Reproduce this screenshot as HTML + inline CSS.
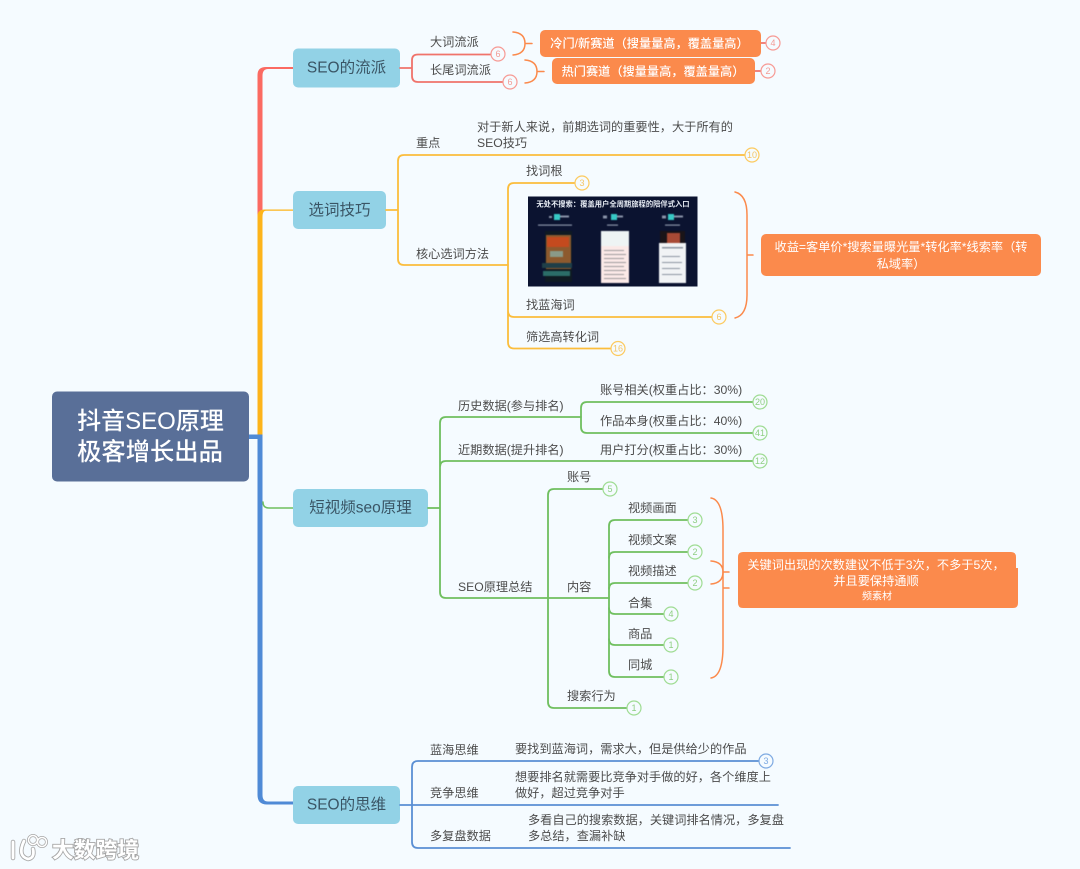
<!DOCTYPE html>
<html lang="zh"><head><meta charset="utf-8"><title>抖音SEO原理</title>
<style>
html,body{margin:0;padding:0;background:#f5fbff;width:1080px;height:869px;overflow:hidden}
svg{display:block;filter:blur(.35px)}
text{font-family:"Liberation Sans","Noto Sans CJK TC",sans-serif;dominant-baseline:central}
.l{font-size:12.200px;fill:#4c4c4c}
.t{font-size:15.500px;fill:#3a5565;text-anchor:middle}
.o{font-size:12.200px;fill:#fff;text-anchor:middle}
.b{font-size:9px;text-anchor:middle}
.n{fill:none;stroke-linecap:round;stroke-linejoin:round}
</style></head><body>
<svg width="1080" height="869" viewBox="0 0 1080 869" xmlns="http://www.w3.org/2000/svg">
<rect width="1080" height="869" fill="#f5fbff"/>

<!-- main branches -->
<path fill="#fb6a62" d="M257.500 436V75Q257.500 67 266 67H293V69H268Q262.500 69 262.500 76V436Z"/>
<path fill="#fdb41b" d="M257.500 436V216Q257.500 209.500 265 209.500H293V210.700H266Q262.500 210.700 262.500 217V436Z"/>
<path fill="#4f8ad6" d="M249 434.500H262.500V795Q262.500 801.500 268 801.500H293V804.500H267Q257.500 804.500 257.500 795V439H249Z"/>
<path class="n" d="M263 502Q263 508 269 508H293" stroke="#6fbf5f" stroke-width="1.500"/>

<!-- central -->
<rect x="52" y="391.500" width="197" height="90" rx="5" fill="#596f98"/>
<text x="150.500" y="421.500" font-size="24" font-weight="500" fill="#fff" text-anchor="middle">抖音SEO原理</text>
<text x="150" y="452.500" font-size="24.300" font-weight="500" fill="#fff" text-anchor="middle">极客增长出品</text>

<!-- topics -->
<g fill="#92d2e6">
<rect x="293" y="48.500" width="107" height="39" rx="5"/>
<rect x="293" y="191" width="93" height="38" rx="5"/>
<rect x="293" y="489" width="135" height="38" rx="5"/>
<rect x="293" y="786" width="107" height="38" rx="5"/>
</g>
<text class="t" x="346.500" y="68">SEO的流派</text>
<text class="t" x="339.500" y="210.500">选词技巧</text>
<text class="t" x="360.500" y="508">短视频seo原理</text>
<text class="t" x="346.500" y="805">SEO的思维</text>

<!-- SEO流派 -->
<g class="n" stroke="#f0736b" stroke-width="1.800">
<path d="M400 68H412M491 54.500H418Q412 54.500 412 60V76Q412 82 418 82H503"/>
<path d="M761 43H766M755 71H761"/>
</g>
<g fill="#f5fbff" stroke="#f79a94" stroke-width="1.200">
<circle cx="498" cy="54" r="7"/><circle cx="510" cy="82" r="7"/><circle cx="773" cy="43" r="7"/><circle cx="768" cy="71" r="7"/>
</g>
<text class="b" fill="#f29c96" x="498" y="54">6</text><text class="b" fill="#f29c96" x="510" y="82">6</text><text class="b" fill="#f29c96" x="773" y="43">4</text><text class="b" fill="#f29c96" x="768" y="71">2</text>
<text class="l" x="430" y="42">大词流派</text>
<text class="l" x="430" y="70">长尾词流派</text>
<g class="n" stroke="#fb8a4c" stroke-width="1.500">
<path d="M513 32Q525 33 525 43.500Q525 54 513 55M525 43.500H532"/>
<path d="M525 60Q537 61 537 71.500Q537 82 525 83M537 71.500H544"/>
</g>
<rect x="540" y="30" width="221" height="27" rx="5" fill="#fb8a4c"/>
<rect x="552" y="58" width="203" height="26" rx="5" fill="#fb8a4c"/>
<text class="o" x="649.500" y="43.500" font-weight="500">冷门/新赛道（搜量量高，覆盖量高）</text>
<text class="o" x="653" y="71.500" font-weight="500">热门赛道（搜量量高，覆盖量高）</text>

<!-- 选词技巧 -->
<g class="n" stroke="#fbbd3c" stroke-width="1.800">
<path d="M386 210H398M745 155H404Q398 155 398 161V259Q398 265 404 265H508"/>
<path d="M575 183H514Q508 183 508 189V342Q508 348.500 514 348.500H611M508 311Q508 317 514 317H712"/>
</g>
<g fill="#f5fbff" stroke="#fcca5f" stroke-width="1.200">
<circle cx="752" cy="155" r="7"/><circle cx="582" cy="183" r="7"/><circle cx="719" cy="317" r="7"/><circle cx="618" cy="348.500" r="7"/>
</g>
<text class="b" fill="#f4c566" x="752" y="155">10</text><text class="b" fill="#f4c566" x="582" y="183">3</text><text class="b" fill="#f4c566" x="719" y="317">6</text><text class="b" fill="#f4c566" x="618" y="348.500">16</text>
<text class="l" x="416" y="143">重点</text>
<text class="l" x="477" y="127">对于新人来说，前期选词的重要性，大于所有的</text>
<text class="l" x="477" y="143">SEO技巧</text>
<text class="l" x="526" y="171">找词根</text>
<text class="l" x="416" y="254">核心选词方法</text>
<text class="l" x="526" y="305">找蓝海词</text>
<text class="l" x="526" y="337">筛选高转化词</text>

<!-- thumbnail -->
<rect x="528" y="196.500" width="169.500" height="90" fill="#0b1330"/>
<text x="613" y="204" font-size="7.300" fill="#e8edf5" text-anchor="middle" font-weight="700">无处不搜索：覆盖用户全周期旅程的陪伴式入口</text>
<g style="filter:blur(.5px)">
<g fill="#37c9c5">
<rect x="554" y="214" width="6" height="6"/><rect x="611" y="214" width="6" height="6"/><rect x="668" y="214" width="6" height="6"/>
</g>
<g fill="#8a93a8">
<rect x="549" y="216" width="3" height="2"/><rect x="560" y="215.500" width="9" height="2"/><rect x="603" y="215.500" width="4" height="3"/><rect x="617" y="215.500" width="6" height="2"/><rect x="662" y="215.500" width="4" height="3"/><rect x="674" y="215.500" width="9" height="2"/>
<rect x="538" y="224.500" width="34" height="1.200"/><rect x="607" y="224.500" width="11" height="1.200"/><rect x="665" y="224.500" width="15" height="1.200"/>
</g>
<rect x="545" y="231" width="27" height="51" fill="#0f1a22"/>
<rect x="546" y="235" width="25" height="34" fill="#8d5a2e"/>
<rect x="547" y="237" width="22" height="10" fill="#c44a1e"/>
<rect x="550" y="251" width="13" height="6" fill="#8a9a88"/>
<rect x="542" y="263" width="30" height="5" fill="#1f3f48"/>
<rect x="543" y="271" width="27" height="5" fill="#2b6d68"/>
<rect x="601" y="231" width="28" height="52" fill="#fbe9e7"/>
<rect x="601" y="231" width="28" height="15" fill="#eef4f4"/>
<g fill="#9c9a9c"><rect x="604" y="250" width="20" height="1"/><rect x="604" y="254" width="22" height="1"/><rect x="604" y="258" width="20" height="1"/><rect x="604" y="262" width="22" height="1"/><rect x="604" y="266" width="20" height="1"/><rect x="604" y="270" width="22" height="1"/><rect x="604" y="274" width="20" height="1"/><rect x="604" y="278" width="22" height="1"/></g>
<rect x="660" y="231" width="25" height="12" fill="#1a1418"/>
<rect x="667" y="233" width="13" height="10" fill="#a84a35"/>
<rect x="659" y="243" width="27" height="40" fill="#f1f3f5"/>
<g fill="#8b93a0"><rect x="662" y="247" width="21" height="1.500"/><rect x="662" y="256" width="18" height="1"/><rect x="662" y="262" width="20" height="1"/><rect x="662" y="268" width="18" height="1"/><rect x="662" y="274" width="20" height="1"/></g>
</g>

<!-- 收益 -->
<path class="n" stroke="#fb8a4c" stroke-width="1.500" d="M735 192Q747 195 747 215V295Q747 315 735 318M747 255H753"/>
<rect x="761" y="234" width="280" height="42" rx="5" fill="#fb8a4c"/>
<text class="o" x="901" y="247">收益=客单价*搜索量曝光量*转化率*线索率（转</text>
<text class="o" x="901" y="264">私域率）</text>

<!-- 短视频seo -->
<g class="n" stroke="#6fbf5f" stroke-width="1.800">
<path d="M428 508H440M581 417H446Q440 417 440 423V592Q440 598 446 598H609M440 467Q440 461 446 461H753"/>
<path d="M581 417V408Q581 402 587 402H753M581 417V427Q581 433 587 433H753"/>
<path d="M603 489H554Q548 489 548 495V702Q548 708 554 708H627"/>
<path d="M688 520H615Q609 520 609 526V671Q609 677 615 677H664"/>
<path d="M609 558Q609 552 615 552H688M609 589Q609 583 615 583H688M609 608Q609 614 615 614H664M609 639Q609 645 615 645H664"/>
</g>
<g fill="#f5fbff" stroke="#9fdc93" stroke-width="1.200">
<circle cx="760" cy="402" r="7"/><circle cx="760" cy="433" r="7"/><circle cx="760" cy="461" r="7"/><circle cx="610" cy="489" r="7"/>
<circle cx="695" cy="520" r="7"/><circle cx="695" cy="552" r="7"/><circle cx="695" cy="583" r="7"/><circle cx="671" cy="614" r="7"/><circle cx="671" cy="645" r="7"/><circle cx="671" cy="677" r="7"/><circle cx="634" cy="708" r="7"/>
</g>
<text class="b" fill="#8fce83" x="760" y="402">20</text><text class="b" fill="#8fce83" x="760" y="433">41</text><text class="b" fill="#8fce83" x="760" y="461">12</text><text class="b" fill="#8fce83" x="610" y="489">5</text>
<text class="b" fill="#8fce83" x="695" y="520">3</text><text class="b" fill="#8fce83" x="695" y="552">2</text><text class="b" fill="#8fce83" x="695" y="583">2</text><text class="b" fill="#8fce83" x="671" y="614">4</text><text class="b" fill="#8fce83" x="671" y="645">1</text><text class="b" fill="#8fce83" x="671" y="677">1</text><text class="b" fill="#8fce83" x="634" y="708">1</text>
<text class="l" x="458" y="406">历史数据(参与排名)</text>
<text class="l" x="458" y="450">近期数据(提升排名)</text>
<text class="l" x="458" y="587">SEO原理总结</text>
<text class="l" x="600" y="390">账号相关(权重占比：30%)</text>
<text class="l" x="600" y="421">作品本身(权重占比：40%)</text>
<text class="l" x="600" y="450">用户打分(权重占比：30%)</text>
<text class="l" x="567" y="477">账号</text>
<text class="l" x="567" y="587">内容</text>
<text class="l" x="567" y="696">搜索行为</text>
<text class="l" x="628" y="508">视频画面</text>
<text class="l" x="628" y="540">视频文案</text>
<text class="l" x="628" y="571">视频描述</text>
<text class="l" x="628" y="603">合集</text>
<text class="l" x="628" y="634">商品</text>
<text class="l" x="628" y="665">同城</text>
<g class="n" stroke="#fb8a4c" stroke-width="1.500">
<path d="M711 498Q723 500 723 530V646Q723 676 711 678M723 588H729"/>
<path d="M711 561Q723 562 723 572Q723 583 711 584M723 572H729"/>
</g>
<path fill="#fb8a4c" d="M743 552H1011Q1016 552 1016 557V568H1018V603Q1018 608 1013 608H743Q738 608 738 603V557Q738 552 743 552Z"/>
<text class="o" x="876" y="565">关键词出现的次数建议不低于3次，不多于5次，</text>
<text class="o" x="876" y="581">并且要保持通顺</text>
<text class="o" x="877" y="597" style="font-size:10px">频素材</text>

<!-- SEO思维 -->
<g class="n" stroke="#5a8fd4" stroke-width="1.800">
<path d="M400 805H778M759 761H418Q412 761 412 767V842Q412 848 418 848H790"/>
</g>
<circle cx="766" cy="761" r="7" fill="#f5fbff" stroke="#7eaae2" stroke-width="1.200"/>
<text class="b" fill="#7eaae2" x="766" y="761">3</text>
<text class="l" x="430" y="750">蓝海思维</text>
<text class="l" x="515" y="749">要找到蓝海词，需求大，但是供给少的作品</text>
<text class="l" x="430" y="793">竞争思维</text>
<text class="l" x="515" y="777">想要排名就需要比竞争对手做的好，各个维度上</text>
<text class="l" x="515" y="793">做好，超过竞争对手</text>
<text class="l" x="430" y="836">多复盘数据</text>
<text class="l" x="528" y="820">多看自己的搜索数据，关键词排名情况，多复盘</text>
<text class="l" x="528" y="836">多总结，查漏补缺</text>

<!-- watermark -->
<g class="n" stroke="#a8a8a8" stroke-width="4.500">
<path d="M13 842V858M24 841Q17 856 28 859Q35 858 33 849"/>
</g>
<g fill="none" stroke="#a8a8a8" stroke-width="3">
<circle cx="33" cy="840" r="4.500"/><circle cx="42" cy="842" r="4.500"/>
</g>
<g class="n" stroke="#fff" stroke-width="2.800">
<path d="M13 842V858M24 841Q17 856 28 859Q35 858 33 849"/>
</g>
<g fill="none" stroke="#fff" stroke-width="1.500">
<circle cx="33" cy="840" r="4.500"/><circle cx="42" cy="842" r="4.500"/>
</g>
<text x="52" y="850" font-size="21.800" font-weight="700" fill="#fff" stroke="#a5a5a5" stroke-width="1.800" paint-order="stroke">大数跨境</text>
</svg>
</body></html>
